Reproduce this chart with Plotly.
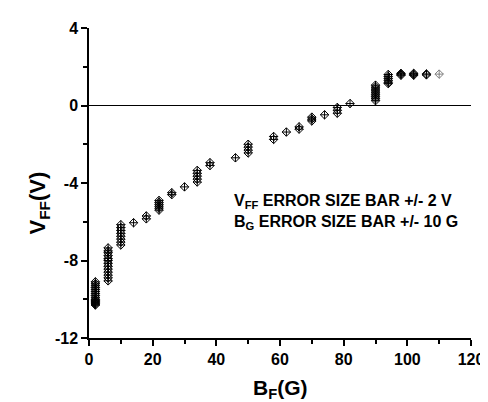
import plotly.graph_objects as go

# Data (B_F in G, V_FF in V)
B_F = ([2] * 16 + [6] * 13 + [10] * 8 + [14] + [18] * 2 + [22] * 6 + [26] * 2 + [30]
       + [34] * 5 + [38] * 2 + [46] + [50] * 4 + [58] * 2 + [62] + [66] * 2 + [70] * 3
       + [74] + [78] * 3 + [82] + [90] * 9 + [94] * 6 + [98] * 3 + [102] * 3 + [106] * 2)
V_FF = [-9.1, -9.2, -9.3, -9.4, -9.5, -9.6, -9.7, -9.8, -9.9, -10.0, -10.05, -10.1, -10.15, -10.2, -10.25, -10.3,
        -7.35, -7.5, -7.6, -7.75, -7.9, -8.0, -8.15, -8.3, -8.45, -8.6, -8.75, -8.9, -9.05,
        -6.15, -6.3, -6.45, -6.6, -6.75, -6.9, -7.05, -7.2,
        -6.05,
        -5.7, -5.85,
        -4.9, -5.0, -5.1, -5.2, -5.3, -5.4,
        -4.5, -4.6,
        -4.2,
        -3.35, -3.5, -3.65, -3.8, -3.95,
        -2.95, -3.1,
        -2.7,
        -2.0, -2.15, -2.3, -2.45,
        -1.6, -1.75,
        -1.37,
        -1.1, -1.22,
        -0.6, -0.7, -0.8,
        -0.48,
        -0.1, -0.25, -0.4,
        0.1,
        1.05, 0.95, 0.85, 0.75, 0.65, 0.55, 0.45, 0.35, 0.25,
        1.6, 1.5, 1.4, 1.3, 1.2, 1.13,
        1.56, 1.61, 1.66,
        1.56, 1.61, 1.66,
        1.58, 1.63]
B_F_last = [110]
V_FF_last = [1.62]

X_TICKS = [0, 20, 40, 60, 80, 100, 120]
Y_TICKS = [-12, -8, -4, 0, 4]

FONT = "Arial, Liberation Sans, sans-serif"

fig = go.Figure()
fig.add_trace(go.Scatter(
    x=B_F, y=V_FF, mode="markers",
    marker=dict(symbol="diamond-cross-open", size=6.5, color="black", line=dict(width=1, color="black")),
    showlegend=False, cliponaxis=False))
fig.add_trace(go.Scatter(
    x=B_F_last, y=V_FF_last, mode="markers",
    marker=dict(symbol="diamond-cross-open", size=6.5, color="#808080", line=dict(width=1, color="#808080")),
    showlegend=False, cliponaxis=False))

fig.update_layout(
    width=488, height=402,
    margin=dict(l=81, r=15, t=15, b=72),
    paper_bgcolor="white", plot_bgcolor="white",
    font=dict(family=FONT, size=16, color="black"),
    xaxis=dict(range=[0, 120], tickvals=X_TICKS, ticktext=[f"<b>{v}</b>" for v in X_TICKS],
               showline=True, linecolor="black", linewidth=1.5, showgrid=False, zeroline=False,
               ticks="outside", ticklen=6, tickwidth=1.5, tickcolor="black",
               minor=dict(tickvals=[10, 30, 50, 70, 90, 110], ticks="outside", ticklen=4,
                          tickwidth=1.5, tickcolor="black", showgrid=False),
               tickfont=dict(size=16)),
    yaxis=dict(range=[-12, 4], tickvals=Y_TICKS, ticktext=[f"<b>{v}</b>" for v in Y_TICKS],
               showline=True, linecolor="black", linewidth=1.5, showgrid=False,
               zeroline=True, zerolinecolor="black", zerolinewidth=1.2,
               ticks="outside", ticklen=6, tickwidth=1.5, tickcolor="black",
               minor=dict(tickvals=[-10, -6, -2, 2], ticks="outside", ticklen=4,
                          tickwidth=1.5, tickcolor="black", showgrid=False),
               tickfont=dict(size=16)),
)

fig.add_annotation(xref="paper", yref="paper", x=-0.13, y=0.435, xanchor="center", yanchor="middle",
                   text="<b>V<sub>FF</sub>(V)</b>", textangle=-90, showarrow=False,
                   font=dict(size=22))
fig.add_annotation(xref="paper", yref="paper", x=0.5, y=-0.165, xanchor="center", yanchor="middle",
                   text="<b>B<sub>F</sub>(G)</b>", showarrow=False, font=dict(size=21))
fig.add_annotation(xref="x", yref="y", x=45, y=-5.5, xanchor="left", yanchor="middle",
                   text="<b>V<sub>FF</sub> ERROR SIZE BAR +/- 2 V</b><br><b>B<sub>G</sub> ERROR SIZE BAR +/- 10 G</b>",
                   align="left", showarrow=False, font=dict(size=16))

fig.write_html("out.html")
